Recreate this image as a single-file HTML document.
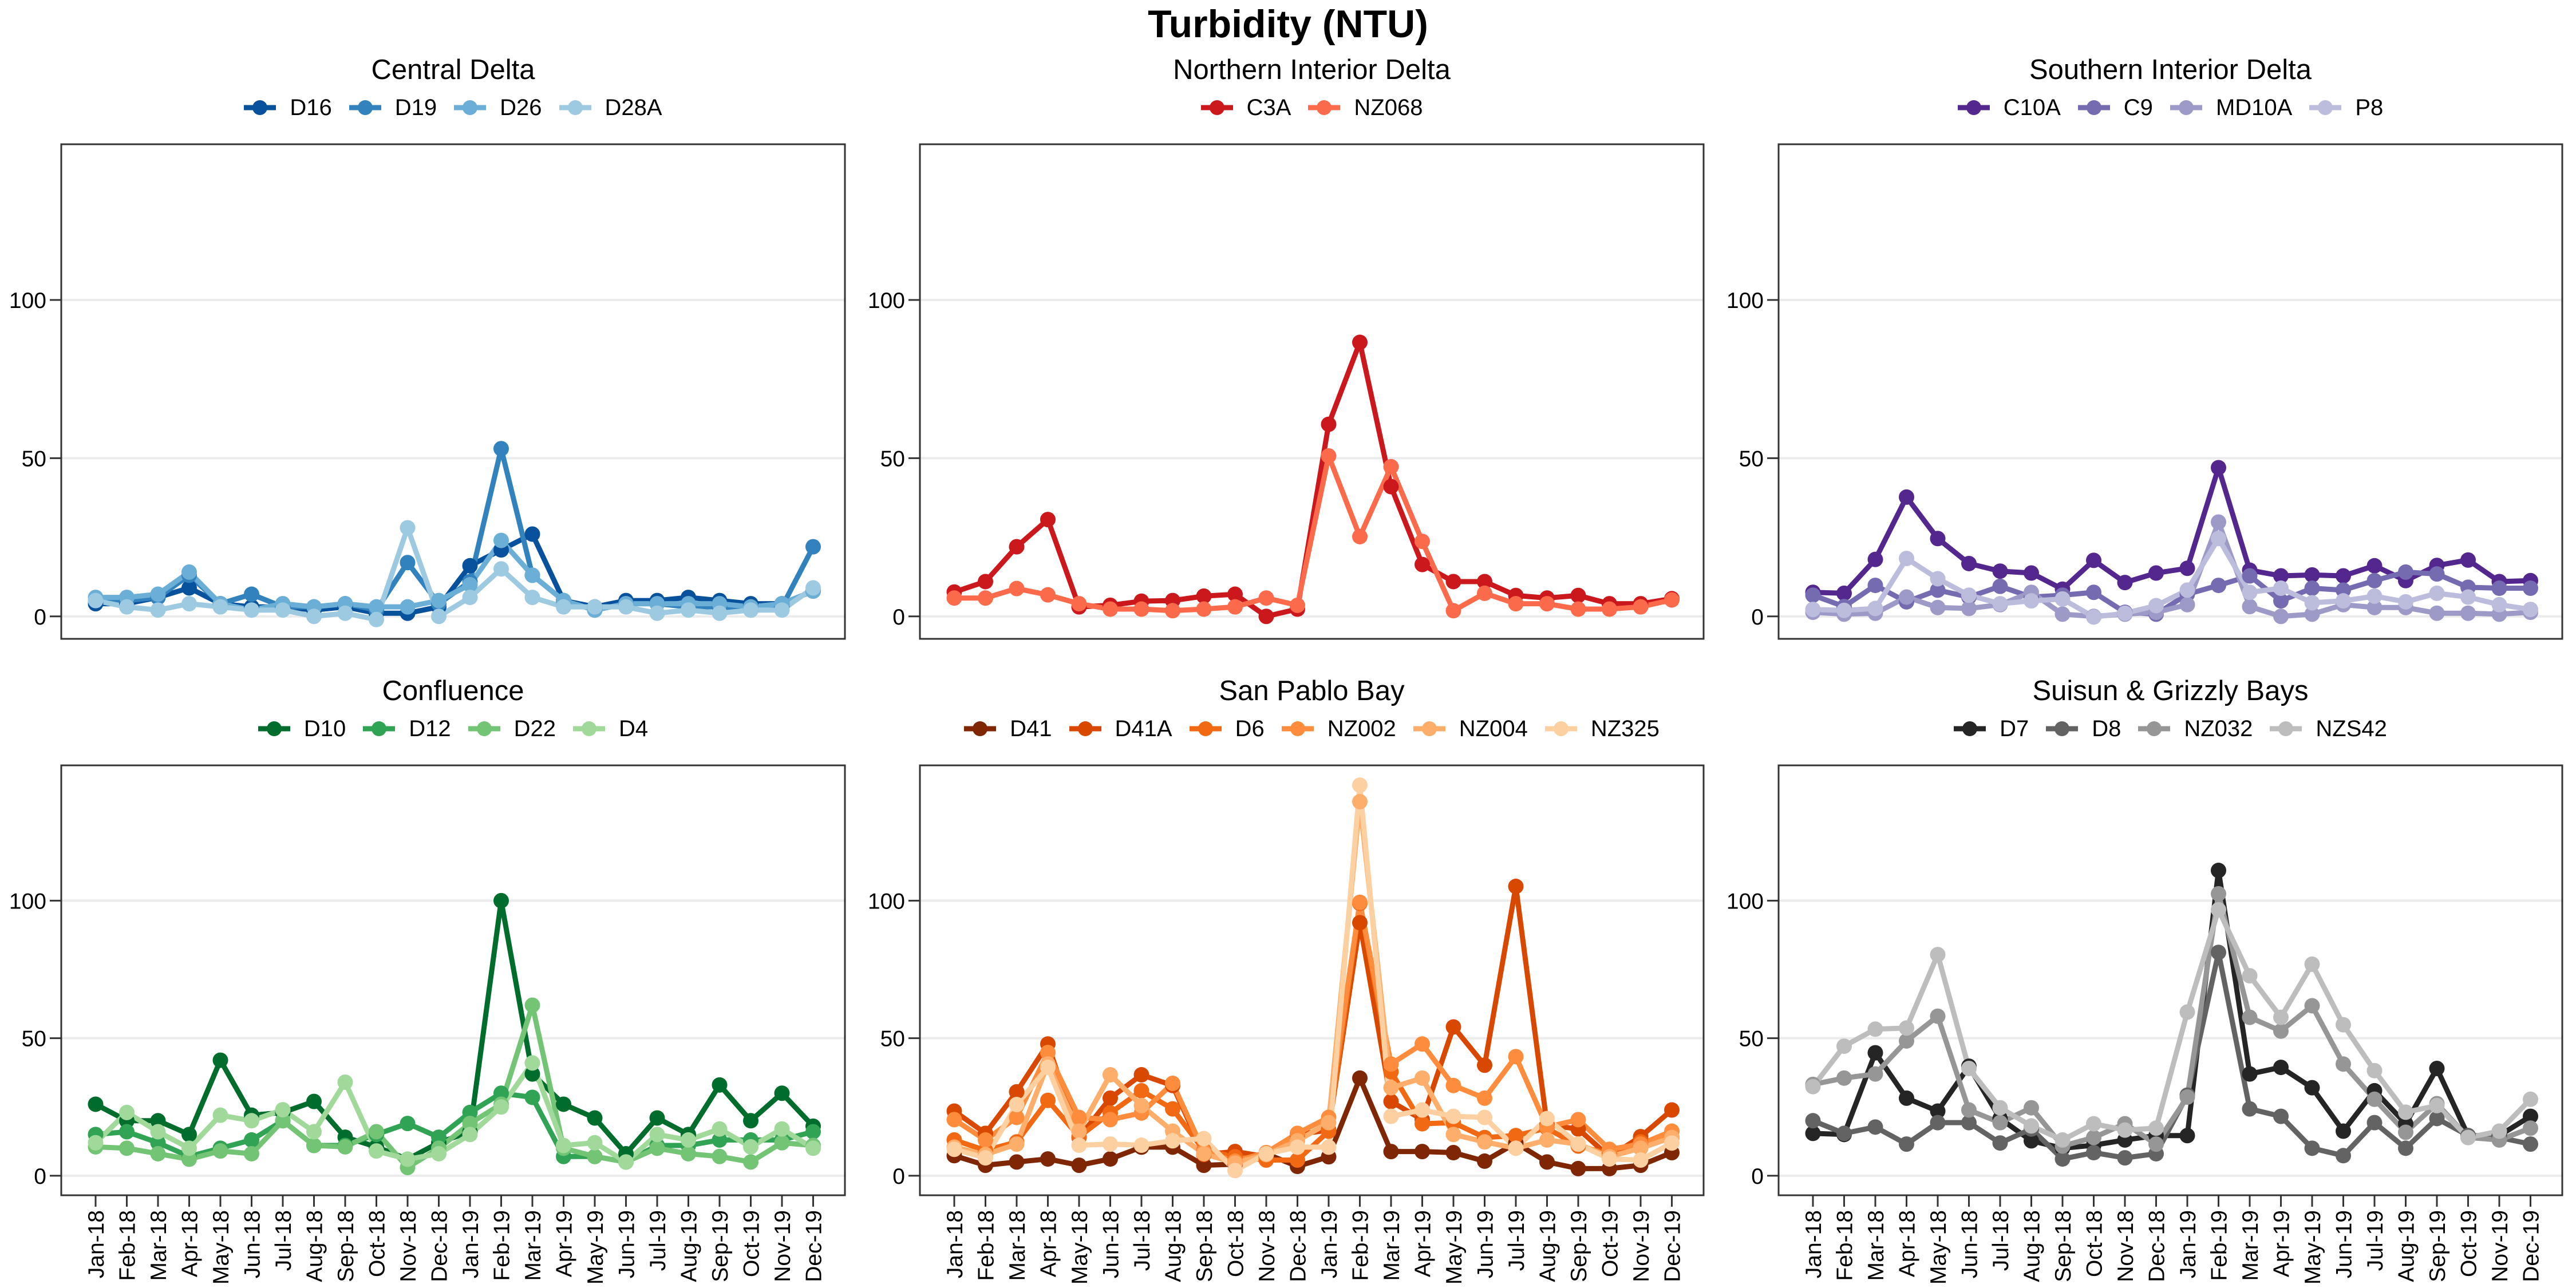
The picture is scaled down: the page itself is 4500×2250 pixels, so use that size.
<!DOCTYPE html>
<html><head><meta charset="utf-8">
<style>
html,body{margin:0;padding:0;background:#fff;}
#root{position:relative;width:4500px;height:2250px;overflow:hidden;font-family:"Liberation Sans",Arial,sans-serif;}
.legend{position:absolute;display:flex;align-items:center;justify-content:center;width:1500px;height:50px;font-size:40px;color:#000;}
.item{display:flex;align-items:center;margin:0 15px;}
.item svg{margin-right:24px;}
</style></head>
<body>
<div id="root">
<svg id="chart" width="4500" height="2250" xmlns="http://www.w3.org/2000/svg" style="position:absolute;left:0;top:0">
<text x="2250" y="65" text-anchor="middle" font-size="68" font-weight="bold" font-family="Liberation Sans, Arial, sans-serif">Turbidity (NTU)</text>
</svg>
</div>
<script>
const months = ['Jan-18','Feb-18','Mar-18','Apr-18','May-18','Jun-18','Jul-18','Aug-18','Sep-18','Oct-18','Nov-18','Dec-18','Jan-19','Feb-19','Mar-19','Apr-19','May-19','Jun-19','Jul-19','Aug-19','Sep-19','Oct-19','Nov-19','Dec-19'];
const yTicks = [0,50,100];
const yTickLabels = ['0','50','100'];
const panelTitles = ['Central Delta','Northern Interior Delta','Southern Interior Delta','Confluence','San Pablo Bay','Suisun & Grizzly Bays'];

const cdD16  = [4,4,6,9,4,3,3,2,3,1,1,3,16,21,26,5,3,5,5,6,5,4,4,8];
const cdD19  = [5,5,6,13,4,7,3,3,4,2,17,4,11,53,13,5,2,4,4,3,3,2,3,22];
const cdD26  = [6,6,7,14,4,2,4,3,4,3,3,5,10,24,13,5,2,4,4,4,4,3,4,8];
const cdD28A = [5,3,2,4,3,2,2,0,1,-1,28,0,6,15,6,3,3,3,1,2,1,2,2,9];

const niC3A   = [7.7,11,22,30.6,3,3.5,4.8,5,6.4,7,0,2.3,60.7,86.6,41,16.4,11,11,6.6,5.8,6.6,4,4,5.6];
const niNZ068 = [5.8,5.8,8.8,6.8,4,2.3,2.3,1.8,2.3,3,5.8,3.5,50.7,25.2,47.3,23.7,1.8,7.3,4,4,2.3,2.3,3,5.2];

const siC10A  = [7.6,7.3,18,37.7,24.6,16.7,14.3,13.7,8.6,17.7,10.7,13.7,15.2,47,14.6,12.8,13.1,12.8,16,11.3,16.1,17.8,11,11.3];
const siC9    = [6.7,3.1,9.8,4.6,8.3,6.1,9.5,6.1,6.7,7.6,1.3,0.7,7,9.8,12.8,4.9,8.9,8.3,11.3,14,13.4,9.2,8.9,8.9];
const siMD10A = [1.3,0.7,1,6.1,2.8,2.5,3.7,7.6,0.7,0,0.7,1.3,3.7,29.8,3.1,0,0.7,3.7,2.8,2.8,1,1,0.7,1.3];
const siP8    = [2.2,1.9,2.5,18.3,11.9,6.7,4,4.9,5.5,-0.2,1,3.4,8.3,24.6,7.6,8.9,4.3,4.9,6.4,4.6,7.3,6.1,3.7,2.2];

const cfD10 = [26,20,20,15,42,22,23,27,14,10.5,6,12,16,100,37,26,21,8,21,15,33,20,30,18];
const cfD12 = [15,16,12,7,10,13,20,11,11,15,19,14,23,30,28.5,7,7,5,11,11,13,13,13,16];
const cfD22 = [10.5,10,8,6,9,8,20,11,10.5,16,3,10,19,26,62,10,7,5,10,8,7,5,12,11];
const cfD4  = [12,23,16,10,22,20,24,16,34,9,6,8,15,25,41,11,12,5,15,13,17,10.5,17,10];

const spD41   = [7.3,3.8,5,6.1,3.8,6.1,10.4,10.4,3.8,4.2,8,3.4,6.9,35.5,8.8,8.8,8.4,5.3,11.9,5,2.6,2.6,3.8,8.4];
const spD41A  = [23.5,15.4,30.5,47.9,13.9,28.2,36.7,32.8,7.7,8.8,6.9,15,16.6,92,27,20.4,54.1,40.2,105.2,18.5,17,6.9,14.2,23.9];
const spD6    = [13,9.2,12.3,27.4,14.2,22.8,30.9,24.3,9.2,6.9,5.7,5.7,16.2,99,37.8,18.9,19.3,13.9,14.6,17.3,10.8,8,12.3,13.9];
const spNZ002 = [20.4,13,21.2,44.8,21.2,20.4,22.8,33.6,8.8,5.3,8.4,15.4,21.2,99.4,40.6,47.9,32.8,28.2,43.3,17.7,20.4,9.6,11.5,16.2];
const spNZ004 = [10.4,7.7,11.5,40.6,16.2,36.7,25.5,16.2,8,4.6,7.7,12.7,19.3,136,32,35.5,15,12.3,10,13,11.5,6.9,10,13.9];
const spNZ325 = [9.6,6.5,25.9,39.4,11.1,11.5,11.1,12.7,13.5,1.9,8,10.4,10.4,142,21.6,23.9,21.6,21.2,10,20.8,11.5,6.1,5.7,11.9];

const sgD7    = [15.4,15,44.7,28.2,23.5,39.8,20.8,12.7,10,11.1,13,14.6,14.6,111,37,39.4,32,16.2,30.9,18.9,39,14.6,14.6,21.6];
const sgD8    = [20,15.4,17.7,11.5,19.3,19.3,11.9,17,6.1,8.4,6.5,8,29.3,81.2,24.3,21.6,10,7.3,19.3,10,20.8,14.6,13.9,11.5];
const sgNZ032 = [33.2,35.5,37,49,58,23.9,19.3,24.7,10.8,13.9,18.9,11.5,28.6,102.5,57.6,52.6,61.8,40.6,27.8,15.8,26.2,13.9,13,17.3];
const sgNZS42 = [32.4,47.1,53.3,53.7,80.4,39,24.7,18.1,13,18.9,16.6,17.3,59.5,96.7,72.7,57.6,76.9,54.9,38.2,23.1,25.5,13.9,16.2,27.8];

const panels = [
 {names:['D16','D19','D26','D28A'], data:[cdD16,cdD19,cdD26,cdD28A], colors:['#08519c','#3182bd','#6baed6','#9ecae1']},
 {names:['C3A','NZ068'], data:[niC3A,niNZ068], colors:['#cb181d','#fb6a4a']},
 {names:['C10A','C9','MD10A','P8'], data:[siC10A,siC9,siMD10A,siP8], colors:['#54278f','#756bb1','#9e9ac8','#bcbddc']},
 {names:['D10','D12','D22','D4'], data:[cfD10,cfD12,cfD22,cfD4], colors:['#006d2c','#31a354','#74c476','#a1d99b']},
 {names:['D41','D41A','D6','NZ002','NZ004','NZ325'], data:[spD41,spD41A,spD6,spNZ002,spNZ004,spNZ325], colors:['#7f2704','#d94801','#f16913','#fd8d3c','#fdae6b','#fdd0a2']},
 {names:['D7','D8','NZ032','NZS42'], data:[sgD7,sgD8,sgNZ032,sgNZS42], colors:['#252525','#636363','#969696','#bdbdbd']}
];

const NS='http://www.w3.org/2000/svg';
const svg=document.getElementById('chart');
const root=document.getElementById('root');
const yMin=-7.1, yMax=149.2;
const FONT='Liberation Sans, Arial, sans-serif';
function mk(tag,attrs,parent){const e=document.createElementNS(NS,tag);for(const k in attrs)e.setAttribute(k,attrs[k]);(parent||svg).appendChild(e);return e;}

panels.forEach((p,pi)=>{
  const col=pi%3,row=Math.floor(pi/3);
  const L=107+1500*col, W=1369;
  const T=row===0?252:1337, B=row===0?1116:2088;
  const xS=i=>L+60+i*54.5;
  const yS=v=>B-(v-yMin)/(yMax-yMin)*(B-T);
  const g=mk('g',{});
  
  
  const t=mk('text',{x:L+W/2,y:T-114,'text-anchor':'middle','font-size':49,'font-family':FONT},g);
  t.textContent=panelTitles[pi];
  
  
  yTicks.forEach((v,k)=>{
    const gl=mk('line',{x1:L,x2:L+W,y1:yS(v),y2:yS(v),stroke:'#ebebeb','stroke-width':4},g);
    
    
    const tk=mk('line',{x1:L-20,x2:L,y1:yS(v),y2:yS(v),stroke:'#333','stroke-width':3},g);
    
    
    const tl=mk('text',{x:L-26,y:yS(v)+14,'text-anchor':'end','font-size':39,'font-family':FONT,fill:'#000'},g);
    tl.textContent=yTickLabels[k];
    
    
  });
  p.data.forEach((d,si)=>{
    const pl=mk('polyline',{points:d.map((v,i)=>xS(i)+','+yS(v)).join(' '),fill:'none',stroke:p.colors[si],'stroke-width':9,'stroke-linejoin':'round'},g);
    
    
  });
  p.data.forEach((d,si)=>{
    d.forEach((v,i)=>{
      const c=mk('circle',{cx:xS(i),cy:yS(v),r:13.5,fill:p.colors[si]},g);
      
      
    });
  });
  const br=mk('rect',{x:L,y:T,width:W,height:B-T,fill:'none',stroke:'#333','stroke-width':3},g);
  
  
  if(row===1){
    months.forEach((m,i)=>{
      const tk=mk('line',{x1:xS(i),x2:xS(i),y1:B,y2:B+20,stroke:'#333','stroke-width':3},g);
      
      
      const tl=mk('text',{x:0,y:0,'text-anchor':'end','font-size':39,'font-family':FONT,fill:'#000',transform:'translate('+(xS(i)+14)+','+(B+26)+') rotate(-90)'},g);
      tl.textContent=m;
      
      
    });
  }
  const lg=document.createElement('div');
  lg.className='legend';
  lg.style.left=(L+W/2-750)+'px';
  lg.style.top=(T-64-25)+'px';
  
  
  p.names.forEach((n,si)=>{
    const it=document.createElement('div');
    it.className='item';
    
    
    it.innerHTML='<svg width="56" height="40"><line x1="0" x2="56" y1="20" y2="20" stroke="'+p.colors[si]+'" stroke-width="9"/><circle cx="28" cy="20" r="13" fill="'+p.colors[si]+'"/></svg><span>'+n+'</span>';
    lg.appendChild(it);
  });
  root.appendChild(lg);
});
</script>
</body></html>
